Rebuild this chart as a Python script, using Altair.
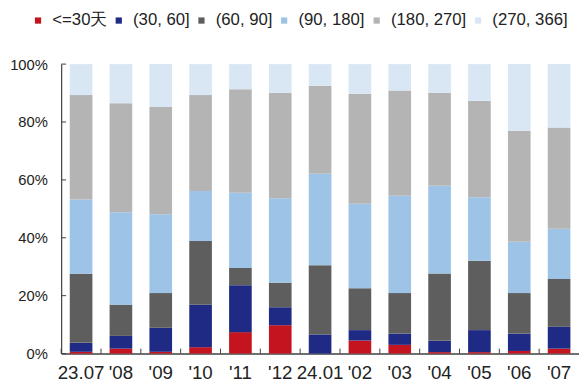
import altair as alt
import pandas as pd

months = ["23.07", "'08", "'09", "'10", "'11", "'12", "24.01", "'02", "'03", "'04", "'05", "'06", "'07"]
series = ["<=30天", "(30, 60]", "(60, 90]", "(90, 180]", "(180, 270]", "(270, 366]"]
colors = ["#C4141F", "#1F2A84", "#5E5E5E", "#9DC3E6", "#B4B4B4", "#D9E7F5"]

le30 = [0.6, 1.7, 0.6, 2.2, 7.4, 9.8, 0.0, 4.5, 3.0, 0.5, 0.5, 0.9, 1.7]
d30_60 = [3.1, 4.4, 8.3, 14.7, 16.2, 6.2, 6.6, 3.6, 3.9, 3.9, 7.6, 6.0, 7.6]
d60_90 = [23.9, 10.8, 12.0, 22.0, 6.0, 8.5, 23.9, 14.5, 14.0, 23.3, 24.0, 14.0, 16.5]
d90_180 = [25.6, 31.9, 27.2, 17.3, 26.0, 29.2, 31.6, 29.2, 33.6, 30.3, 21.9, 17.7, 17.3]
d180_270 = [36.1, 37.7, 37.1, 33.1, 35.7, 36.4, 30.4, 37.9, 36.4, 32.1, 33.3, 38.4, 35.0]
d270_366 = [10.7, 13.5, 14.8, 10.7, 8.7, 9.9, 7.5, 10.3, 9.1, 9.9, 12.7, 23.0, 21.9]

yticks = [0, 20, 40, 60, 80, 100]

all_series = [le30, d30_60, d60_90, d90_180, d180_270, d270_366]
rows = []
for k, (name, vals) in enumerate(zip(series, all_series)):
    for m, v in zip(months, vals):
        rows.append({"month": m, "series": name, "value": v, "k": k})
df = pd.DataFrame(rows)

FONT = "Liberation Sans"
AX = "#404040"

xscale = alt.Scale(domain=months, paddingInner=0, paddingOuter=0)
yscale = alt.Scale(domain=[0, 100], nice=False)

bars = alt.Chart(df).mark_bar(width=23).encode(
    x=alt.X("month:N", sort=months, scale=xscale,
            axis=alt.Axis(title=None, labelAngle=0, ticks=False, labelFontSize=19,
                          labelFont=FONT, labelColor="#222222", labelPadding=10,
                          labelOverlap=False, domainColor=AX, domainWidth=1.5)),
    y=alt.Y("value:Q", stack="zero", scale=yscale,
            axis=alt.Axis(title=None, values=yticks, labelExpr="datum.value + '%'",
                          ticks=False, grid=False, labelFontSize=15, labelFont=FONT,
                          labelColor="#222222", labelPadding=14,
                          domainColor=AX, domainWidth=1.2)),
    color=alt.Color("series:N", scale=alt.Scale(domain=series, range=colors),
                    legend=alt.Legend(title=None, orient="none", direction="horizontal",
                                      legendX=-32, legendY=-53, symbolType="square",
                                      symbolSize=40, symbolStrokeWidth=0,
                                      labelFontSize=17, labelFont=FONT,
                                      labelColor="#222222", labelOffset=6,
                                      columnPadding=3, padding=0, gridAlign="each")),
    order=alt.Order("k:Q", sort="ascending"),
)

ytick_rules = alt.Chart(pd.DataFrame({"v": yticks})).mark_rule(color=AX, strokeWidth=1).encode(
    y=alt.Y("v:Q", scale=yscale, title=None),
    x=alt.value(0),
    x2=alt.value(5),
)

xtick_rules = alt.Chart(pd.DataFrame({"month": months})).mark_rule(color=AX, strokeWidth=1).encode(
    x=alt.X("month:N", sort=months, scale=xscale, bandPosition=0, title=None),
    y=alt.value(289),
    y2=alt.value(294),
)

chart = alt.layer(bars, ytick_rules, xtick_rules).properties(
    width=526,
    height=294,
    autosize=alt.AutoSizeParams(type="none"),
    padding={"left": 54, "top": 54, "right": 0, "bottom": 33},
).configure_view(stroke=None)

chart.save("out.html", embed_options={"renderer": "svg", "actions": False})
